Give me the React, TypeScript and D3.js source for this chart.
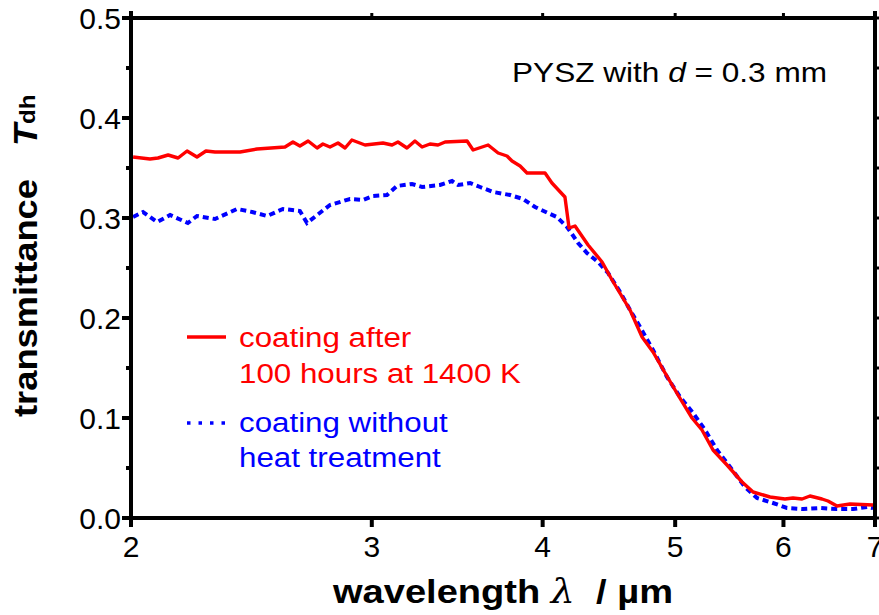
import React from "react";
import * as d3 from "d3";

// wavelength (µm) and transmittance values
const redLambda = [2.007, 2.065, 2.093, 2.129, 2.165, 2.198, 2.235, 2.269, 2.304, 2.403, 2.473, 2.592, 2.627, 2.658, 2.695, 2.736, 2.763, 2.796, 2.834, 2.868, 2.901, 2.966, 3.057, 3.104, 3.135, 3.183, 3.226, 3.265, 3.309, 3.354, 3.394, 3.522, 3.558, 3.649, 3.711, 3.767, 3.799, 3.851, 3.896, 4.016, 4.063, 4.153, 4.182, 4.224, 4.318, 4.421, 4.496, 4.634, 4.729, 4.817, 4.916, 5.024, 5.144, 5.231, 5.329, 5.456, 5.596, 5.701, 5.866, 6.015, 6.097, 6.191, 6.274, 6.402, 6.467, 6.566, 6.712, 6.977];
const redT = [0.361, 0.359, 0.360, 0.363, 0.360, 0.367, 0.361, 0.367, 0.366, 0.366, 0.369, 0.371, 0.376, 0.372, 0.377, 0.370, 0.374, 0.371, 0.375, 0.370, 0.378, 0.373, 0.375, 0.373, 0.376, 0.370, 0.377, 0.371, 0.374, 0.373, 0.376, 0.377, 0.368, 0.373, 0.365, 0.362, 0.357, 0.352, 0.345, 0.345, 0.335, 0.321, 0.290, 0.292, 0.273, 0.256, 0.238, 0.208, 0.181, 0.166, 0.145, 0.123, 0.100, 0.088, 0.068, 0.053, 0.036, 0.026, 0.021, 0.019, 0.020, 0.019, 0.022, 0.019, 0.017, 0.012, 0.014, 0.013];

const blueLambda = [2.007, 2.041, 2.090, 2.136, 2.201, 2.235, 2.304, 2.391, 2.453, 2.515, 2.583, 2.658, 2.690, 2.736, 2.796, 2.892, 2.956, 3.006, 3.078, 3.130, 3.210, 3.265, 3.365, 3.434, 3.469, 3.540, 3.600, 3.680, 3.787, 3.870, 3.949, 4.036, 4.097, 4.168, 4.246, 4.310, 4.391, 4.466, 4.557, 4.634, 4.713, 4.817, 4.932, 5.041, 5.153, 5.258, 5.365, 5.484, 5.624, 5.739, 5.895, 6.036, 6.201, 6.380, 6.566, 6.746, 6.907, 6.977];
const blueT = [0.301, 0.306, 0.296, 0.303, 0.295, 0.302, 0.299, 0.309, 0.306, 0.302, 0.309, 0.307, 0.295, 0.303, 0.313, 0.319, 0.318, 0.322, 0.323, 0.332, 0.334, 0.331, 0.333, 0.337, 0.333, 0.335, 0.331, 0.326, 0.323, 0.319, 0.311, 0.305, 0.301, 0.291, 0.275, 0.265, 0.256, 0.245, 0.226, 0.208, 0.191, 0.168, 0.141, 0.121, 0.105, 0.088, 0.068, 0.051, 0.031, 0.020, 0.015, 0.010, 0.009, 0.010, 0.009, 0.009, 0.011, 0.010];

const xTicks = [2, 3, 4, 5, 6, 7];
const yTicks = [0, 0.1, 0.2, 0.3, 0.4, 0.5];
const yMinorTicks = [0.05, 0.15, 0.25, 0.35, 0.45];

const W = 879;
const H = 615;
const FONT = "'Liberation Sans', Arial, Helvetica, sans-serif";

export default function App() {
  const left = 131, right = 875, top = 18, bottom = 518;
  const x = d3.scaleLog().domain([2, 7]).range([left, right]);
  const y = d3.scaleLinear().domain([0, 0.5]).range([bottom, top]);

  const line = d3
    .line<[number, number]>()
    .x((d) => x(d[0]))
    .y((d) => y(d[1]));

  const red = redLambda.map((l, i) => [l, redT[i]] as [number, number]);
  const blue = blueLambda.map((l, i) => [l, blueT[i]] as [number, number]);

  const axisW = 4;

  return (
    <div style={{ position: "absolute", left: 0, top: 0 }}>
      <svg width={W} height={H} style={{ display: "block", background: "#fff" }} fontFamily={FONT}>
        <rect x={0} y={0} width={W} height={H} fill="#fff" />
        {/* data */}
        <path d={line(blue) || ""} fill="none" stroke="#0000ff" strokeWidth={4} strokeDasharray="6,4" />
        <path d={line(red) || ""} fill="none" stroke="#ff0000" strokeWidth={3.4} strokeLinejoin="round" />

        {/* frame */}
        <line x1={left} x2={right} y1={top} y2={top} stroke="#000" strokeWidth={axisW} />
        <line x1={left} x2={right} y1={bottom} y2={bottom} stroke="#000" strokeWidth={axisW} />
        <line x1={left} x2={left} y1={11} y2={bottom + 2} stroke="#000" strokeWidth={axisW} />
        <line x1={right} x2={right} y1={11} y2={bottom + 2} stroke="#000" strokeWidth={axisW} />

        {/* x ticks */}
        {xTicks.map((t) => (
          <g key={"xt" + t}>
            <line x1={x(t)} x2={x(t)} y1={bottom} y2={bottom + 9} stroke="#000" strokeWidth={axisW} />
            <line x1={x(t)} x2={x(t)} y1={top} y2={top - 5} stroke="#000" strokeWidth={3} />
            <text x={x(t)} y={557} textAnchor="middle" fontSize={30} fill="#000">
              {t}
            </text>
          </g>
        ))}

        {/* y ticks */}
        {yTicks.map((t) => (
          <g key={"yt" + t}>
            <line x1={left - 9} x2={left} y1={y(t)} y2={y(t)} stroke="#000" strokeWidth={axisW} />
            <line x1={right} x2={right + 4} y1={y(t)} y2={y(t)} stroke="#000" strokeWidth={3} />
            <text x={121} y={y(t) + 11} textAnchor="end" fontSize={30} fill="#000">
              {t.toFixed(1)}
            </text>
          </g>
        ))}
        {yMinorTicks.map((t) => (
          <g key={"ym" + t}>
            <line x1={left - 5} x2={left} y1={y(t)} y2={y(t)} stroke="#000" strokeWidth={axisW} />
            <line x1={right} x2={right + 4} y1={y(t)} y2={y(t)} stroke="#000" strokeWidth={3} />
          </g>
        ))}

        {/* axis titles */}
        <g transform="translate(503, 603) scale(1.12, 1)">
          <text textAnchor="middle" fontSize={34} fontWeight="bold" fill="#000">
            wavelength <tspan fontFamily="'DejaVu Serif', 'Liberation Serif', serif" fontStyle="italic" fontWeight="normal">λ</tspan>{"\u00a0\u00a0"}/ µm
          </text>
        </g>
        <g transform="translate(37, 417) rotate(-90) scale(1.1, 1)">
          <text textAnchor="start" fontSize={33} fontWeight="bold" fill="#000">
            transmittance
            <tspan dx={30} fontStyle="italic">T</tspan>
            <tspan fontSize={22} dy={-2}>dh</tspan>
          </text>
        </g>

        {/* annotation */}
        <g transform="translate(512, 82) scale(1.17, 1)">
          <text fontSize={27} fill="#000">
            PYSZ with <tspan fontStyle="italic">d</tspan> = 0.3 mm
          </text>
        </g>

        {/* legend */}
        <line x1={187} x2={226} y1={337} y2={337} stroke="#ff0000" strokeWidth={3.4} />
        <g transform="translate(239, 347) scale(1.16, 1)">
          <text fontSize={27} fill="#ff0000">coating after</text>
          <text y={36} fontSize={27} fill="#ff0000">100 hours at 1400 K</text>
        </g>
        <line x1={187} x2={226} y1={423} y2={423} stroke="#0000ff" strokeWidth={3.5} strokeDasharray="3.5,8" />
        <g transform="translate(239, 432) scale(1.16, 1)">
          <text fontSize={27} fill="#0000ff">coating without</text>
          <text y={35} fontSize={27} fill="#0000ff">heat treatment</text>
        </g>
      </svg>
    </div>
  );
}
